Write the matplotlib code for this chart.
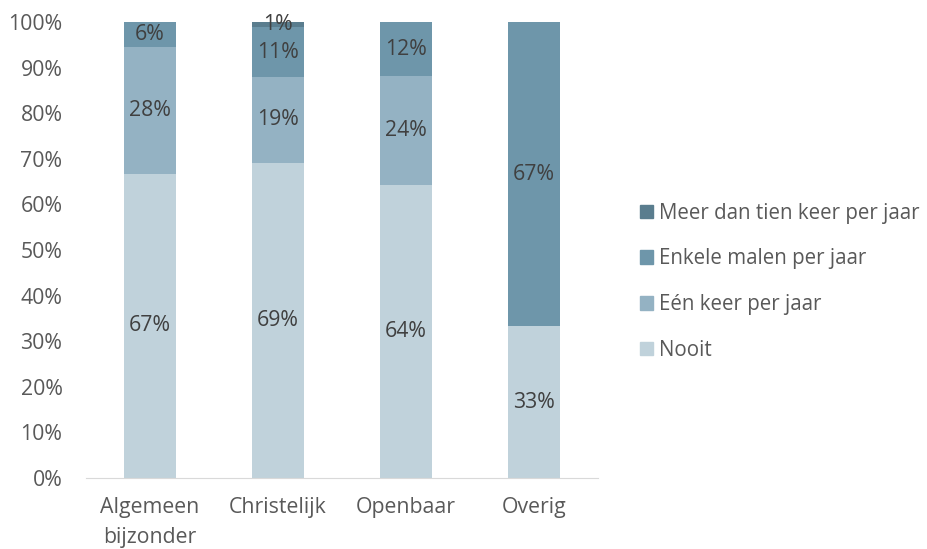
import matplotlib
matplotlib.use("Agg")
import matplotlib.pyplot as plt
from matplotlib.patches import Patch

categories = ["Algemeen\nbijzonder", "Christelijk", "Openbaar", "Overig"]
series_names = ["Nooit", "Eén keer per jaar", "Enkele malen per jaar", "Meer dan tien keer per jaar"]
nooit = [66.7, 69.1, 64.3, 33.3]
een_keer = [27.8, 18.9, 23.8, 0.0]
enkele = [5.5, 10.8, 11.9, 66.7]
meer = [0.0, 1.2, 0.0, 0.0]
colors = ["#c0d2db", "#94b2c3", "#6e96aa", "#5a7d8e"]

plt.rcParams['font.family'] = ['Open Sans', 'DejaVu Sans']
text_color = "#595959"
fs = 15.3

fig = plt.figure(figsize=(9.27, 5.49), dpi=100)
ax = fig.add_axes([0.0928, 0.1293, 0.552, 0.8307])

x = list(range(len(categories)))
bottom = [0.0] * len(categories)
for vals, col in zip([nooit, een_keer, enkele, meer], colors):
    ax.bar(x, vals, bottom=bottom, width=0.41, color=col)
    for i, v in enumerate(vals):
        if v > 0:
            ax.text(x[i], bottom[i] + v / 2, f"{round(v):.0f}%", ha="center", va="center",
                    fontsize=fs, color="#404040")
    bottom = [b + v for b, v in zip(bottom, vals)]

ax.set_xlim(-0.5, len(categories) - 0.5)
ax.set_ylim(0, 100)
ax.set_yticks(range(0, 101, 10))
ax.set_yticklabels([f"{t}%" for t in range(0, 101, 10)])
ax.set_xticks(x)
ax.set_xticklabels(categories, linespacing=1.55)
for s in ["top", "right", "left"]:
    ax.spines[s].set_visible(False)
ax.spines["bottom"].set_color("#d9d9d9")
ax.tick_params(axis="both", length=0, labelsize=fs, colors=text_color)
ax.tick_params(axis="y", pad=17)
ax.tick_params(axis="x", pad=14)

handles = [Patch(color=c) for c in colors[::-1]]
leg = fig.legend(handles, series_names[::-1], loc="center left", bbox_to_anchor=(0.67, 0.487),
                 frameon=False, fontsize=14.8, handlelength=0.65, handleheight=0.65,
                 handletextpad=0.3, labelspacing=1.2, labelcolor=text_color)

fig.savefig("out.png", dpi=100)
